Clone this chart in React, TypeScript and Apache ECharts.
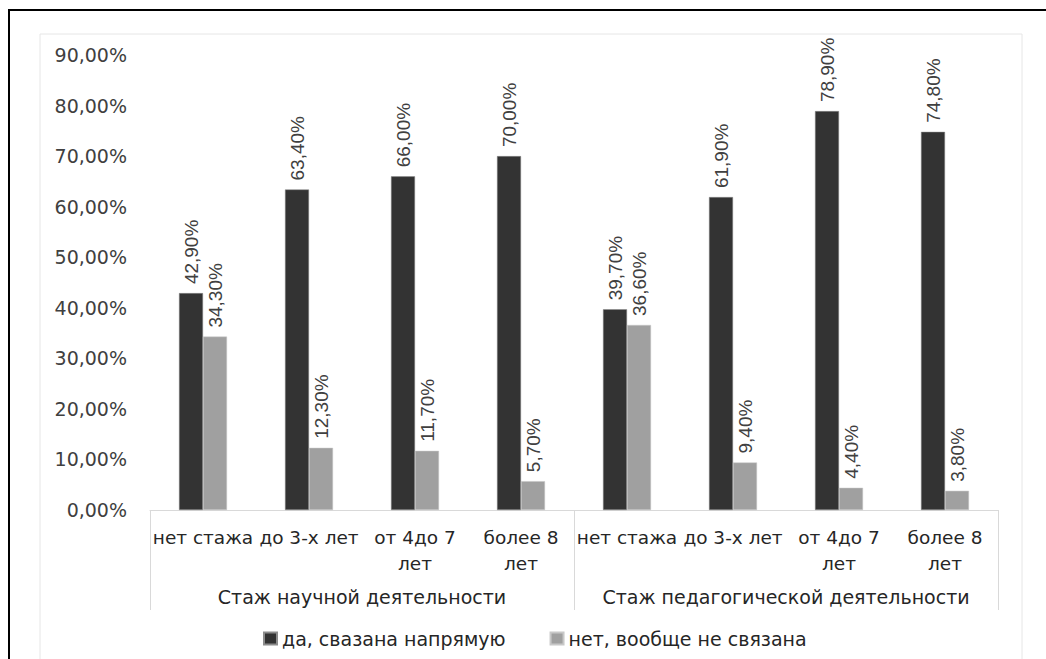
import React, { useEffect, useRef } from "react";
import * as echarts from "echarts";

const categories = ["нет стажа", "до 3-х лет", "от 4до 7\nлет", "более 8\nлет", "нет стажа", "до 3-х лет", "от 4до 7\nлет", "более 8\nлет"];
const groups = ["Стаж научной деятельности", "Стаж педагогической деятельности"];
const seriesNames = ["да, свазана напрямую", "нет, вообще не связана"];
const directValues = [42.9, 63.4, 66.0, 70.0, 39.7, 61.9, 78.9, 74.8];
const noneValues = [34.3, 12.3, 11.7, 5.7, 36.6, 9.4, 4.4, 3.8];
const yTicks = { min: 0, max: 90, interval: 10 };

const fmt = (v: number) => v.toFixed(2).replace(".", ",") + "%";

export default function App() {
  const ref = useRef<HTMLDivElement>(null);
  useEffect(() => {
    document.body.style.margin = "0";
    const chart = echarts.init(ref.current!, null, { renderer: "svg" });
    const font = "DejaVu Sans";
    const labelCfg = {
      show: true,
      position: "top",
      rotate: 90,
      align: "left",
      verticalAlign: "middle",
      distance: 9,
      fontFamily: "Liberation Sans Narrow, Liberation Sans",
      fontSize: 19,
      color: "#404040",
      formatter: (p: any) => fmt(p.value),
    };
    chart.setOption({
      animation: false,
      backgroundColor: "#ffffff",
      graphic: [
        { type: "rect", shape: { x: 9, y: 10, width: 1100, height: 700 }, style: { fill: "none", stroke: "#000", lineWidth: 2 }, silent: true },
        { type: "rect", shape: { x: 40, y: 34, width: 982, height: 700 }, style: { fill: "none", stroke: "#e6e6e6", lineWidth: 1 }, silent: true },
      ],
      grid: { left: 150, right: 48, top: 55, bottom: 149, containLabel: false },
      legend: {
        data: seriesNames,
        left: 258,
        top: 624,
        itemWidth: 13,
        itemHeight: 12,
        itemGap: 44,
        icon: "rect",
        textStyle: { fontFamily: font, fontSize: 19, color: "#262626" },
      },
      xAxis: [
        {
          type: "category",
          data: categories,
          position: "bottom",
          axisLine: { show: true, lineStyle: { color: "#d9d9d9", width: 1 } },
          axisTick: { show: false },
          axisLabel: { interval: 0, fontFamily: font, fontSize: 18.5, color: "#262626", margin: 14, lineHeight: 26 },
        },
        {
          type: "category",
          data: groups,
          position: "bottom",
          axisLine: { show: false },
          axisTick: { show: true, length: 100, lineStyle: { color: "#d9d9d9", width: 1 } },
          axisLabel: { interval: 0, fontFamily: font, fontSize: 19, color: "#262626", margin: 77 },
        },
      ],
      yAxis: {
        type: "value",
        min: yTicks.min,
        max: yTicks.max,
        interval: yTicks.interval,
        axisLine: { show: false },
        axisTick: { show: false },
        splitLine: { show: false },
        axisLabel: { fontFamily: font, fontSize: 19, color: "#404040", margin: 23, formatter: (v: number) => fmt(v) },
      },
      series: [
        {
          name: seriesNames[0],
          type: "bar",
          xAxisIndex: 0,
          data: directValues,
          barWidth: 24,
          barGap: "0%",
          itemStyle: { color: "#333333", borderColor: "#8c8c8c", borderWidth: 0.5 },
          label: labelCfg,
        },
        {
          name: seriesNames[1],
          type: "bar",
          xAxisIndex: 0,
          data: noneValues,
          barWidth: 24,
          barGap: "0%",
          itemStyle: { color: "#a0a0a0", borderColor: "#c8c8c8", borderWidth: 0.5 },
          label: labelCfg,
        },
      ],
    });
    return () => chart.dispose();
  }, []);
  return <div ref={ref} style={{ width: 1046, height: 659 }} />;
}
